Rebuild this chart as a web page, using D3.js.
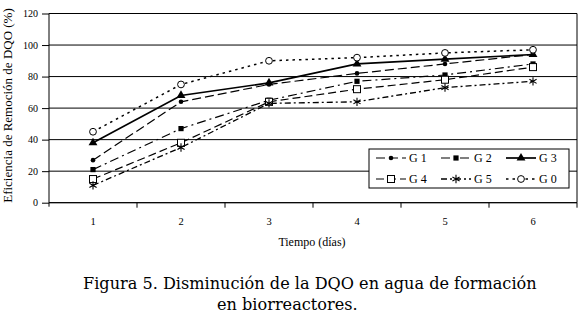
<!DOCTYPE html>
<html><head><meta charset="utf-8">
<script src="https://cdn.jsdelivr.net/npm/d3@7"></script>
<style>
html,body{margin:0;padding:0;background:#fff;}
svg{display:block;}
</style></head>
<body>
<svg id="chart" width="579" height="324"></svg>
<script>
// ---- data ----
const days = ["1","2","3","4","5","6"];
const yTicks = [0,20,40,60,80,100,120];
const seriesNames = ["G 1","G 2","G 3","G 4","G 5","G 0"];
const g1 = [27,64,75,82,88,94];
const g2 = [21,47,65,77,81,88];
const g3 = [38,68,76,88,91,94];
const g4 = [15,38,64,72,78,86];
const g5 = [11,35,63,64,73,77];
const g0 = [45,75,90,92,95,97];
const yTitle = "Eficiencia de Remoción de DQO (%)";
const xTitle = "Tiempo (días)";
const caption1 = "Figura 5. Disminución de la DQO en agua de formación";
const caption2 = "en biorreactores.";

// ---- styles per series (presentation only) ----
const styles = [
  {dash:"9,4", w:1.2, sym:"dot"},
  {dash:"9,4,2,4", w:1.2, sym:"fsquare"},
  {dash:null, w:1.7, sym:"tri"},
  {dash:"8,4", w:1.2, sym:"osquare"},
  {dash:"6,3,2,3", w:1.3, sym:"star"},
  {dash:"2.5,4", w:1.5, sym:"ocircle"}
];
const allSeries = [g1,g2,g3,g4,g5,g0];
const SERIF = '"Liberation Serif","Times New Roman",serif';
const CAPF = '"DejaVu Serif",serif';

const svg = d3.select("#chart");
const L=49, R=577, T=13.5, B=202.7;

const x = d3.scaleBand().domain(days).range([L,R]);
const y = d3.scaleLinear().domain([0,120]).range([B,T]);
const cx = d => x(d)+x.bandwidth()/2;

// gridlines
svg.append("g").selectAll("line").data(yTicks).join("line")
  .attr("x1",L).attr("x2",R).attr("y1",d=>y(d)).attr("y2",d=>y(d))
  .attr("stroke","#000").attr("stroke-width",1);
svg.append("line").attr("x1",R).attr("x2",R).attr("y1",T).attr("y2",B).attr("stroke","#000");

// y axis
const yAxis = d3.axisLeft(y).tickValues(yTicks).tickSize(7).tickPadding(4);
const gy = svg.append("g").attr("transform",`translate(${L},0)`).call(yAxis);
gy.select(".domain").attr("d",`M0,${T}V${B+4}`).attr("stroke","#000");
gy.selectAll("text").style("font-family",SERIF).style("font-size","10px");

// x axis: labels at band centers, ticks at band boundaries
const xAxis = d3.axisBottom(x).tickSize(0).tickPadding(15);
const gx = svg.append("g").attr("transform",`translate(0,${B})`).call(xAxis);
gx.select(".domain").attr("d",`M${L},0H${R}`).attr("stroke","#000");
gx.selectAll("text").style("font-family",SERIF).style("font-size","10.5px");
svg.append("g").selectAll("line").data(days).join("line")
  .attr("x1",d=>x(d)+x.bandwidth()).attr("x2",d=>x(d)+x.bandwidth())
  .attr("y1",B).attr("y2",B+5).attr("stroke","#000");

// titles
svg.append("text").attr("transform",`translate(12,105.5) rotate(-90)`)
  .attr("text-anchor","middle").style("font-family",SERIF).style("font-size","13px").text(yTitle);
svg.append("text").attr("x",312).attr("y",246).attr("text-anchor","middle")
  .style("font-family",SERIF).style("font-size","12px").text(xTitle);

// markers
function drawMarker(g, sym, px, py){
  if(sym==="dot") g.append("circle").attr("cx",px).attr("cy",py).attr("r",2.3).attr("fill","#000");
  else if(sym==="ocircle") g.append("circle").attr("cx",px).attr("cy",py).attr("r",3.4).attr("fill","#fff").attr("stroke","#000").attr("stroke-width",1);
  else if(sym==="fsquare") g.append("rect").attr("x",px-2.6).attr("y",py-2.6).attr("width",5.2).attr("height",5.2).attr("fill","#000");
  else if(sym==="osquare") g.append("rect").attr("x",px-3.5).attr("y",py-3.5).attr("width",7).attr("height",7).attr("fill","#fff").attr("stroke","#000").attr("stroke-width",1);
  else if(sym==="tri") g.append("path").attr("transform",`translate(${px},${py})`).attr("d",d3.symbol(d3.symbolTriangle,34)()).attr("fill","#000");
  else if(sym==="star") g.append("path").attr("transform",`translate(${px},${py})`).attr("d",d3.symbol(d3.symbolAsterisk,48)()).attr("fill","none").attr("stroke","#000").attr("stroke-width",1.1);
}

const line = d3.line().x((v,i)=>cx(days[i])).y(v=>y(v));
allSeries.forEach((s,k)=>{
  const st=styles[k];
  const g=svg.append("g");
  g.append("path").attr("d",line(s)).attr("fill","none").attr("stroke","#000")
    .attr("stroke-width",st.w).attr("stroke-dasharray",st.dash);
  s.forEach((v,i)=>drawMarker(g,st.sym,cx(days[i]),y(v)));
});

// legend
const lg = svg.append("g");
lg.append("rect").attr("x",369).attr("y",149).attr("width",200).attr("height",39)
  .attr("fill","#fff").attr("stroke","#000").attr("stroke-width",1);
seriesNames.forEach((n,k)=>{
  const col=k%3, row=Math.floor(k/3);
  const x0=376+col*65, yy=158+row*21;
  const st=styles[k];
  lg.append("line").attr("x1",x0).attr("x2",x0+30).attr("y1",yy).attr("y2",yy)
    .attr("stroke","#000").attr("stroke-width",st.w).attr("stroke-dasharray",st.dash);
  drawMarker(lg,st.sym,x0+15,yy);
  lg.append("text").attr("x",x0+33).attr("y",yy+4)
    .style("font-family",SERIF).style("font-size","12px").text(n);
});

// caption
const c1 = svg.append("text").attr("x",83).attr("y",289)
  .style("font-family",CAPF).style("font-size","15px").text(caption1);
const w1 = c1.node().getComputedTextLength();
const fs = 15*454/w1;
c1.style("font-size",fs+"px");
svg.append("text").attr("x",217).attr("y",310)
  .style("font-family",CAPF).style("font-size",fs+"px").text(caption2);
</script>
</body></html>
